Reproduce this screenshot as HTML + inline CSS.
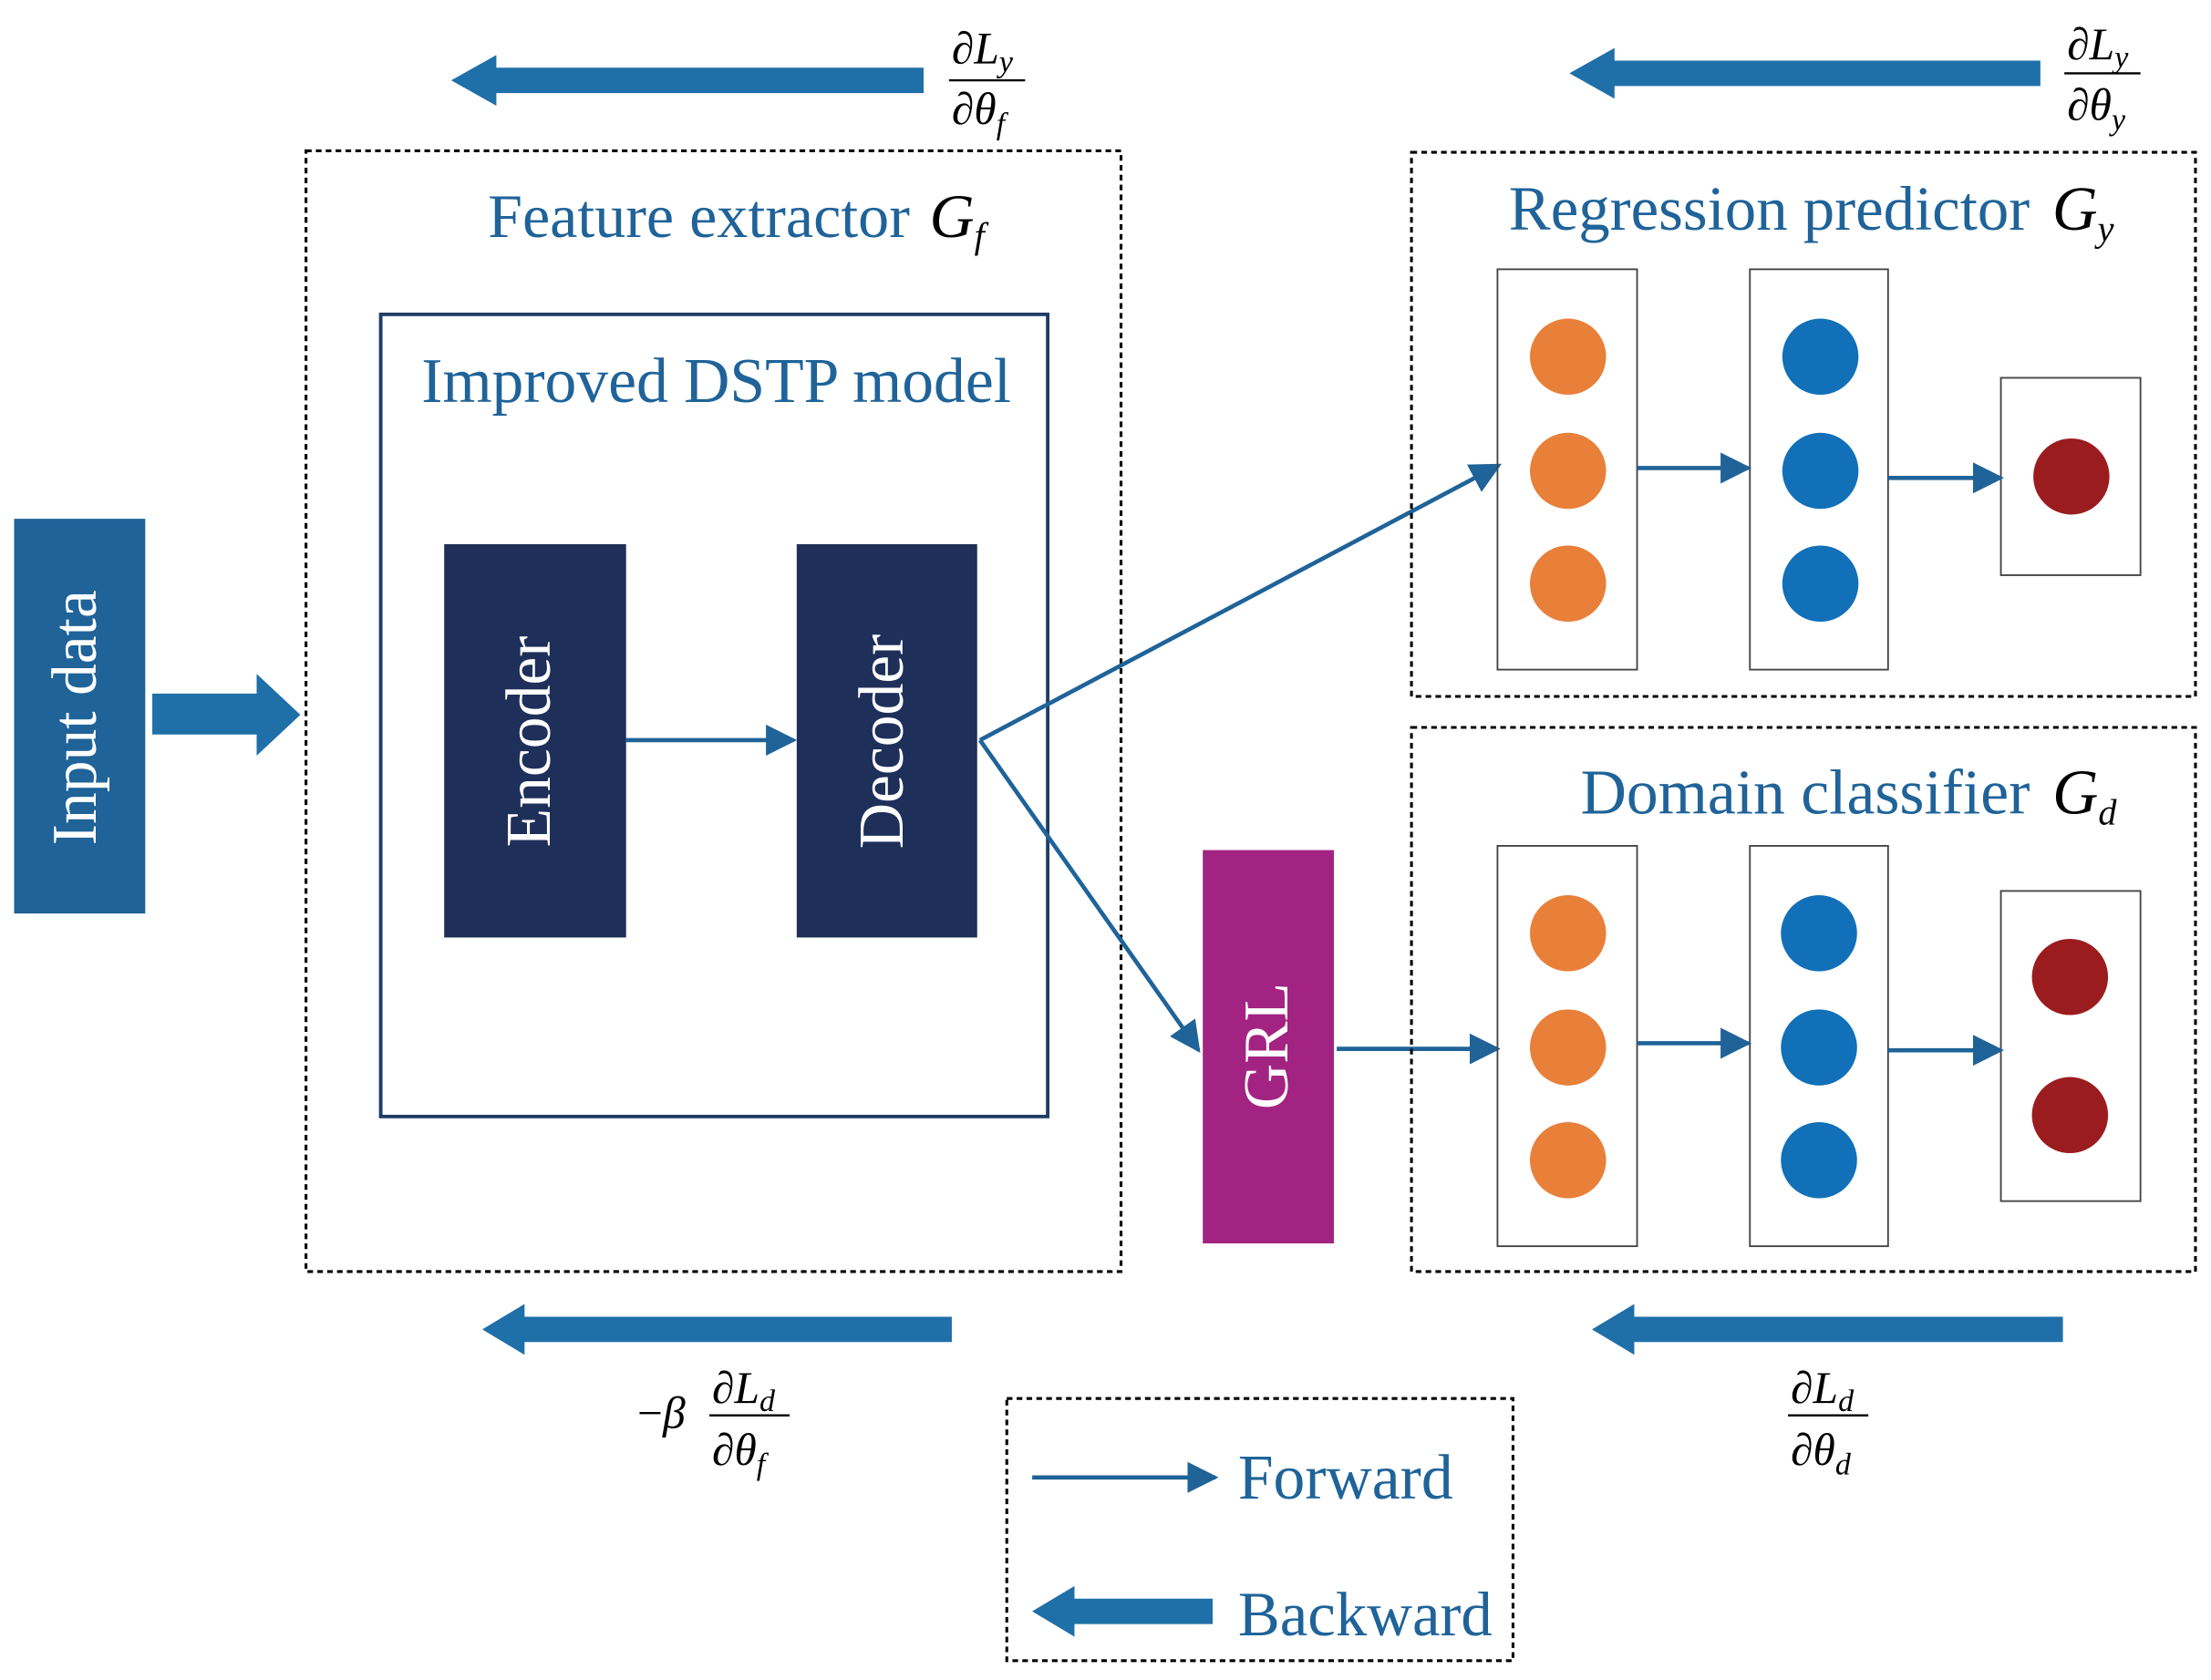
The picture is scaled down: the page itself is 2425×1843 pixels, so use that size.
<!DOCTYPE html>
<html><head><meta charset="utf-8"><style>html,body{margin:0;padding:0;background:#fff}svg{display:block}</style></head><body>
<svg xmlns="http://www.w3.org/2000/svg" width="2425" height="1843" viewBox="0 0 1568 1191.7" font-family="Liberation Serif, serif">
<defs>
<marker id="ah2" viewBox="0 0 10 10" markerWidth="22" markerHeight="22" refX="9" refY="5" orient="auto" markerUnits="userSpaceOnUse"><path d="M0,0 L10,5 L0,10 z" fill="#1f6399"/></marker>
</defs>
<rect width="1568" height="1192" fill="#fff"/>
<rect x="10" y="368" width="93" height="280" fill="#1f6399"/>
<text transform="translate(68,509) rotate(-90)" text-anchor="middle" font-size="45" fill="#fff">Input data</text>
<path d="M108,492 L182,492 L182,478 L213,507 L182,536 L182,521 L108,521 z" fill="#1f6fa8"/>
<rect x="217" y="107" width="578" height="795" fill="none" stroke="#000" stroke-width="2" stroke-dasharray="4,3"/>
<text x="346" y="168" font-size="44" fill="#1f6399">Feature extractor<tspan font-style="italic" fill="#000" dx="14">G</tspan><tspan font-style="italic" fill="#000" font-size="26" dy="8">f</tspan></text>
<rect x="270" y="223" width="473" height="569" fill="none" stroke="#1f3d66" stroke-width="2.5"/>
<text x="508" y="285" font-size="45" fill="#1f6399" text-anchor="middle">Improved DSTP model</text>
<rect x="315" y="386" width="129" height="279" fill="#1e2f5a"/>
<rect x="565" y="386" width="128" height="279" fill="#1e2f5a"/>
<text transform="translate(390,526) rotate(-90)" text-anchor="middle" font-size="45" fill="#fff">Encoder</text>
<text transform="translate(640,526) rotate(-90)" text-anchor="middle" font-size="45" fill="#fff">Decoder</text>
<line x1="444" y1="525" x2="563" y2="525" stroke="#1f6399" stroke-width="3" marker-end="url(#ah2)"/>
<line x1="695" y1="525" x2="1063" y2="330" stroke="#1f6399" stroke-width="3" marker-end="url(#ah2)"/>
<line x1="695" y1="525" x2="850" y2="745" stroke="#1f6399" stroke-width="3" marker-end="url(#ah2)"/>
<rect x="853" y="603" width="93" height="279" fill="#a32382"/>
<text transform="translate(913,742) rotate(-90)" text-anchor="middle" font-size="45" fill="#fff">GRL</text>
<line x1="948" y1="744" x2="1062" y2="744" stroke="#1f6399" stroke-width="3" marker-end="url(#ah2)"/>
<rect x="1001" y="108" width="556" height="386" fill="none" stroke="#000" stroke-width="2" stroke-dasharray="4,3"/>
<text x="1070" y="163" font-size="44.5" fill="#1f6399">Regression predictor<tspan font-style="italic" fill="#000" dx="16">G</tspan><tspan font-style="italic" fill="#000" font-size="26" dy="8">y</tspan></text>
<g fill="none" stroke="#444" stroke-width="1.2">
<rect x="1062" y="191" width="99" height="284"/><rect x="1241" y="191" width="98" height="284"/><rect x="1419" y="268" width="99" height="140"/>
<rect x="1062" y="600" width="99" height="284"/><rect x="1241" y="600" width="98" height="284"/><rect x="1419" y="632" width="99" height="220"/>
</g>
<g fill="#e8803a"><circle cx="1112" cy="253" r="27"/><circle cx="1112" cy="334" r="27"/><circle cx="1112" cy="414" r="27"/>
<circle cx="1112" cy="662" r="27"/><circle cx="1112" cy="743" r="27"/><circle cx="1112" cy="823" r="27"/></g>
<g fill="#1170b8"><circle cx="1291" cy="253" r="27"/><circle cx="1291" cy="334" r="27"/><circle cx="1291" cy="414" r="27"/>
<circle cx="1290" cy="662" r="27"/><circle cx="1290" cy="743" r="27"/><circle cx="1290" cy="823" r="27"/></g>
<g fill="#9b1c1f"><circle cx="1469" cy="338" r="27"/><circle cx="1468" cy="693" r="27"/><circle cx="1468" cy="791" r="27"/></g>
<g stroke="#1f6399" stroke-width="3" marker-end="url(#ah2)">
<line x1="1161" y1="332" x2="1240" y2="332"/><line x1="1339" y1="339" x2="1419" y2="339"/>
<line x1="1161" y1="740" x2="1240" y2="740"/><line x1="1339" y1="745" x2="1419" y2="745"/>
</g>
<rect x="1001" y="516" width="556" height="386" fill="none" stroke="#000" stroke-width="2" stroke-dasharray="4,3"/>
<text x="1121" y="577" font-size="45" fill="#1f6399">Domain classifier<tspan font-style="italic" fill="#000" dx="16">G</tspan><tspan font-style="italic" fill="#000" font-size="26" dy="8">d</tspan></text>
<g fill="#1f6fa8">
<path d="M320,57 L352,39 L352,48 L655,48 L655,66 L352,66 L352,75 z"/>
<path d="M1113,52 L1145,34 L1145,43 L1447,43 L1447,61 L1145,61 L1145,70 z"/>
<path d="M342,943 L372,925 L372,934 L675,934 L675,952 L372,952 L372,961 z"/>
<path d="M1129,943 L1159,925 L1159,934 L1463,934 L1463,952 L1159,952 L1159,961 z"/>
</g>
<g font-size="32" fill="#000">
<text x="675" y="45">∂<tspan font-style="italic">L</tspan><tspan font-style="italic" font-size="22" dy="6">y</tspan></text>
<line x1="673" y1="57" x2="727" y2="57" stroke="#000" stroke-width="1.5"/>
<text x="675" y="88">∂<tspan font-style="italic">θ</tspan><tspan font-style="italic" font-size="22" dy="7">f</tspan></text>
<text x="1466" y="42">∂<tspan font-style="italic">L</tspan><tspan font-style="italic" font-size="22" dy="6">y</tspan></text>
<line x1="1464" y1="52" x2="1518" y2="52" stroke="#000" stroke-width="1.5"/>
<text x="1466" y="85">∂<tspan font-style="italic">θ</tspan><tspan font-style="italic" font-size="22" dy="7">y</tspan></text>
<text x="452" y="1013">−<tspan font-style="italic">β</tspan></text>
<text x="505" y="995">∂<tspan font-style="italic">L</tspan><tspan font-style="italic" font-size="22" dy="6">d</tspan></text>
<line x1="503" y1="1004" x2="560" y2="1004" stroke="#000" stroke-width="1.5"/>
<text x="505" y="1039">∂<tspan font-style="italic">θ</tspan><tspan font-style="italic" font-size="22" dy="7">f</tspan></text>
<text x="1270" y="995">∂<tspan font-style="italic">L</tspan><tspan font-style="italic" font-size="22" dy="6">d</tspan></text>
<line x1="1268" y1="1004" x2="1325" y2="1004" stroke="#000" stroke-width="1.5"/>
<text x="1270" y="1039">∂<tspan font-style="italic">θ</tspan><tspan font-style="italic" font-size="22" dy="7">d</tspan></text>
</g>
<rect x="714" y="992" width="359" height="186" fill="none" stroke="#000" stroke-width="2" stroke-dasharray="4,3"/>
<line x1="732" y1="1048" x2="862" y2="1048" stroke="#1f6399" stroke-width="3" marker-end="url(#ah2)"/>
<text x="878" y="1063" font-size="45" fill="#1f6399">Forward</text>
<path d="M732,1143 L762,1125 L762,1134 L860,1134 L860,1152 L762,1152 L762,1161 z" fill="#1f6fa8"/>
<text x="878" y="1160" font-size="44.5" fill="#1f6399">Backward</text>
</svg>
</body></html>
